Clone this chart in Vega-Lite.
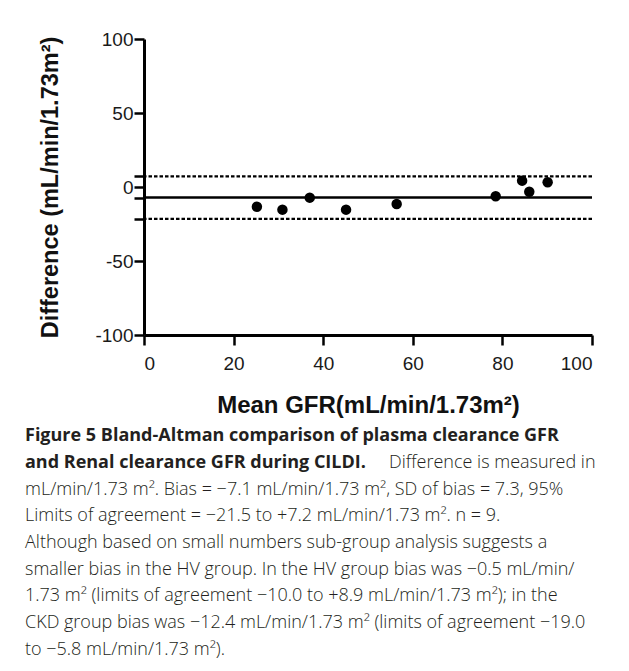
{
  "$schema": "https://vega.github.io/schema/vega-lite/v6.json",
  "background": "white",
  "padding": {"left": 25, "top": 30, "right": 5, "bottom": 5},
  "autosize": {"type": "pad"},
  "bounds": "flush",
  "spacing": 93,
  "config": {
    "view": {"stroke": null},
    "font": "Liberation Sans",
    "axis": {
      "grid": false,
      "domainColor": "#000",
      "domainWidth": 3,
      "tickColor": "#000",
      "tickWidth": 2.5,
      "tickSize": 10,
      "labelFont": "Liberation Sans",
      "labelFontSize": 19,
      "labelColor": "#1a1a1a",
      "titleFont": "Liberation Sans",
      "titleFontWeight": "bold",
      "titleColor": "#111"
    }
  },
  "vconcat": [
    {
      "width": 448,
      "height": 296,
      "layer": [
        {
          "data": {"values": [{"limit": "upper 95% limit", "value": 7.2}, {"limit": "lower 95% limit", "value": -21.5}]},
          "mark": {"type": "rule", "color": "#000", "strokeWidth": 2.3, "strokeDash": [3.5, 2]},
          "encoding": {"y": {"field": "value", "type": "quantitative", "scale": {"domain": [-100, 100], "nice": false}}}
        },
        {
          "data": {"values": [{"limit": "bias", "value": -7.1}]},
          "mark": {"type": "rule", "color": "#000", "strokeWidth": 2.7},
          "encoding": {"y": {"field": "value", "type": "quantitative"}}
        },
        {
          "data": {"values": [
            {"mean": 25.2, "diff": -13.3},
            {"mean": 30.9, "diff": -15.3},
            {"mean": 37.0, "diff": -7.2},
            {"mean": 45.1, "diff": -15.3},
            {"mean": 56.4, "diff": -11.5},
            {"mean": 78.5, "diff": -6.3},
            {"mean": 84.4, "diff": 4.3},
            {"mean": 86.0, "diff": -3.2},
            {"mean": 90.1, "diff": 3.2}
          ]},
          "mark": {"type": "circle", "color": "#000", "opacity": 1, "size": 110},
          "encoding": {
            "x": {
              "field": "mean", "type": "quantitative",
              "scale": {"domain": [0, 100], "nice": false},
              "axis": {
                "values": [0, 20, 40, 60, 80, 100],
                "labelPadding": 9,
                "titlePadding": 20,
                "titleFontSize": 24,
                "title": "Mean GFR(mL/min/1.73m²)"
              }
            },
            "y": {
              "field": "diff", "type": "quantitative",
              "scale": {"domain": [-100, 100], "nice": false},
              "axis": {
                "values": [-100, -50, -21.5, -7.1, 0, 7.2, 50, 100],
                "labelExpr": "indexof([-100, -50, 0, 50, 100], datum.value) >= 0 ? toString(datum.value) : ''",
                "labelPadding": 1,
                "titlePadding": 32,
                "titleFontSize": 23.5,
                "title": "Difference (mL/min/1.73m²)"
              }
            }
          }
        }
      ]
    },
    {
      "width": 448,
      "height": 240,
      "data": {"values": [
        {"line": 1, "role": "heading", "text": "Figure 5 Bland-Altman comparison of plasma clearance GFR"},
        {"line": 2, "role": "heading", "text": "and Renal clearance GFR during CILDI."},
        {"line": 2, "role": "inline", "text": "Difference is measured in"},
        {"line": 3, "role": "body", "text": "mL/min/1.73 m². Bias = −7.1 mL/min/1.73 m², SD of bias = 7.3, 95%"},
        {"line": 4, "role": "body", "text": "Limits of agreement = −21.5 to +7.2 mL/min/1.73 m². n = 9."},
        {"line": 5, "role": "body", "text": "Although based on small numbers sub-group analysis suggests a"},
        {"line": 6, "role": "body", "text": "smaller bias in the HV group. In the HV group bias was −0.5 mL/min/"},
        {"line": 7, "role": "body", "text": "1.73 m² (limits of agreement −10.0 to +8.9 mL/min/1.73 m²); in the"},
        {"line": 8, "role": "body", "text": "CKD group bias was −12.4 mL/min/1.73 m² (limits of agreement −19.0"},
        {"line": 9, "role": "body", "text": "to −5.8 mL/min/1.73 m²)."}
      ]},
      "encoding": {
        "x": {"value": 0},
        "y": {"field": "line", "type": "ordinal", "axis": null, "scale": {"paddingInner": 0, "paddingOuter": 0}},
        "text": {"field": "text"}
      },
      "layer": [
        {
          "transform": [{"filter": "datum.role == 'heading'"}],
          "mark": {"type": "text", "align": "left", "baseline": "alphabetic", "dx": -119, "font": "Open Sans", "fontSize": 18, "fontWeight": "bold", "color": "#231f20"}
        },
        {
          "transform": [{"filter": "datum.role == 'body'"}],
          "mark": {"type": "text", "align": "left", "baseline": "alphabetic", "dx": -119, "font": "Open Sans", "fontSize": 18, "fontWeight": 300, "color": "#231f20"}
        },
        {
          "transform": [{"filter": "datum.role == 'inline'"}],
          "mark": {"type": "text", "align": "left", "baseline": "alphabetic", "dx": 245, "font": "Open Sans", "fontSize": 18, "fontWeight": 300, "color": "#231f20"}
        }
      ]
    }
  ]
}
